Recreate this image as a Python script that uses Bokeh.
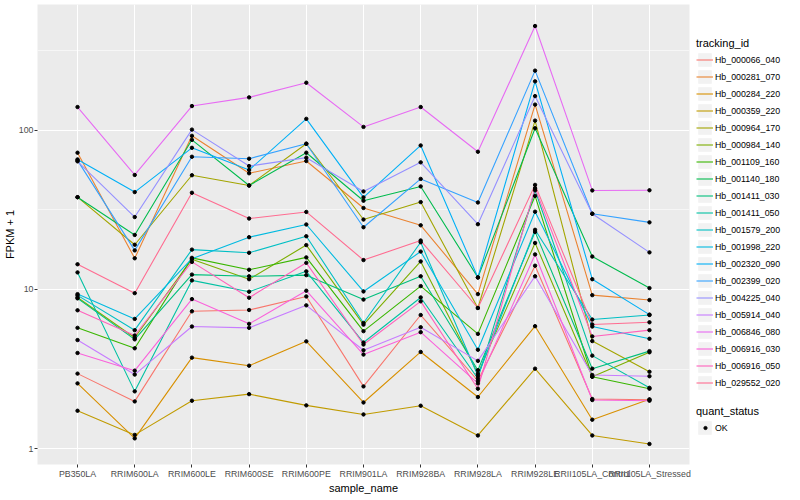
import math
from bokeh.plotting import figure
from bokeh.layouts import row
from bokeh.models import (Range1d, FactorRange, FixedTicker, Legend, LegendItem,
                          BasicTickFormatter)
from bokeh.embed import file_html
from bokeh.resources import INLINE

samples = ["PB350LA", "RRIM600LA", "RRIM600LE", "RRIM600SE", "RRIM600PE",
           "RRIM901LA", "RRIM928BA", "RRIM928LA", "RRIM928LE",
           "RRII105LA_Control", "RRII105LA_Stressed"]

tracking_ids = ["Hb_000066_040", "Hb_000281_070", "Hb_000284_220", "Hb_000359_220",
                "Hb_000964_170", "Hb_000984_140", "Hb_001109_160", "Hb_001140_180",
                "Hb_001411_030", "Hb_001411_050", "Hb_001579_200", "Hb_001998_220",
                "Hb_002320_090", "Hb_002399_020", "Hb_004225_040", "Hb_005914_040",
                "Hb_006846_080", "Hb_006916_030", "Hb_006916_050", "Hb_029552_020"]

# FPKM + 1 per sample
hb_000066_040 = [2.96, 1.98, 7.29, 7.43, 9.04, 2.46, 6.91, 2.67, 14.1, 2.05, 2.03]
hb_000281_070 = [72.3, 15.7, 92.3, 53.7, 64.1, 32.5, 25.3, 9.35, 145, 9.21, 8.58]
hb_000284_220 = [2.57, 1.16, 3.73, 3.32, 4.72, 1.95, 4.05, 2.11, 5.88, 1.52, 2.04]
hb_000359_220 = [1.73, 1.22, 2.00, 2.20, 1.87, 1.64, 1.86, 1.21, 3.18, 1.21, 1.07]
hb_000964_170 = [38.0, 19.1, 52.2, 45.0, 82.3, 27.5, 35.4, 7.65, 115, 4.74, 3.04]
hb_000984_140 = [8.91, 4.97, 15.5, 11.6, 19.0, 6.01, 15.0, 2.96, 19.6, 2.83, 4.03]
hb_001109_160 = [5.74, 4.27, 15.8, 13.3, 15.9, 5.47, 10.5, 5.26, 38.7, 2.83, 2.38]
hb_001140_180 = [38.0, 22.0, 87.1, 45.0, 72.3, 36.1, 44.4, 11.9, 103, 16.1, 10.2]
hb_001411_030 = [8.79, 4.86, 12.4, 12.1, 12.3, 8.64, 12.1, 3.11, 23.0, 3.18, 4.10]
hb_001411_050 = [12.8, 2.29, 11.4, 9.68, 13.0, 4.64, 8.91, 2.76, 42.0, 3.84, 2.41]
hb_001579_200 = [9.18, 5.55, 17.8, 17.0, 21.6, 6.16, 19.8, 2.87, 23.7, 6.47, 6.91]
hb_001998_220 = [9.35, 6.53, 15.6, 21.3, 25.6, 9.72, 17.3, 4.18, 30.8, 5.85, 4.90]
hb_002320_090 = [65.6, 40.9, 77.6, 56.3, 118, 37.9, 80.3, 11.9, 203, 11.6, 6.95]
hb_002399_020 = [64.7, 17.6, 68.2, 66.3, 82.3, 24.6, 49.5, 35.2, 237, 29.9, 26.4]
hb_004225_040 = [63.8, 28.5, 101, 59.6, 67.3, 41.3, 62.9, 25.7, 164, 29.9, 17.1]
hb_005914_040 = [4.81, 2.92, 5.85, 5.74, 7.95, 4.15, 5.79, 3.56, 12.1, 2.90, 2.85]
hb_006846_080 = [140, 52.4, 142, 161, 199, 105, 140, 73.3, 452, 41.9, 42.0]
hb_006916_030 = [3.99, 3.09, 8.70, 6.08, 9.82, 3.90, 5.39, 2.57, 16.6, 2.02, 2.00]
hb_006916_050 = [7.40, 5.14, 14.9, 8.88, 14.7, 4.51, 8.42, 2.38, 43.3, 5.07, 5.55]
hb_029552_020 = [14.4, 9.48, 40.5, 27.9, 30.7, 15.3, 20.3, 7.65, 45.4, 6.03, 6.22]

series = [hb_000066_040, hb_000281_070, hb_000284_220, hb_000359_220, hb_000964_170,
          hb_000984_140, hb_001109_160, hb_001140_180, hb_001411_030, hb_001411_050,
          hb_001579_200, hb_001998_220, hb_002320_090, hb_002399_020, hb_004225_040,
          hb_005914_040, hb_006846_080, hb_006916_030, hb_006916_050, hb_029552_020]

colors = ["#F8766D", "#EA8331", "#D89000", "#C09B00", "#A3A500", "#7CAE00", "#39B600",
          "#00BB4E", "#00BF7D", "#00C1A3", "#00BFC4", "#00BAE0", "#00B0F6", "#35A2FF",
          "#9590FF", "#C77CFF", "#E76BF3", "#FA62DB", "#FF62BC", "#FF6C91"]

quant_status = ["OK"]

FONT = "Liberation Sans"
H = 496

p = figure(x_range=FactorRange(factors=samples, range_padding=0.2,
                               range_padding_units="absolute"),
           y_range=Range1d(0.795, 617), y_axis_type="log",
           width=694, height=H, output_backend="svg", toolbar_location=None,
           min_border_left=30, min_border_right=5, min_border_top=4,
           min_border_bottom=26, title=None)

p.background_fill_color = "#EBEBEB"
p.border_fill_color = "white"
p.outline_line_color = None

yt = FixedTicker(ticks=[1, 10, 100], minor_ticks=[3.1623, 31.623, 316.23])
p.yaxis.ticker = yt
p.ygrid.ticker = yt
p.yaxis.formatter = BasicTickFormatter()
p.ygrid.grid_line_color = "white"
p.ygrid.grid_line_width = 1.1
p.ygrid.minor_grid_line_color = "white"
p.ygrid.minor_grid_line_width = 0.55
p.xgrid.grid_line_color = "white"
p.xgrid.grid_line_width = 1.1

for ax in (p.xaxis, p.yaxis):
    ax.axis_line_color = None
    ax.major_tick_line_color = "#333333"
    ax.major_tick_out = 3
    ax.major_tick_in = 0
    ax.minor_tick_line_color = None
    ax.major_label_text_font = FONT
    ax.major_label_text_font_size = "8.8px"
    ax.major_label_text_color = "#4D4D4D"
    ax.major_label_standoff = 1
    ax.axis_label_text_font = FONT
    ax.axis_label_text_font_size = "11px"
    ax.axis_label_text_font_style = "normal"
    ax.axis_label_text_color = "black"
    ax.axis_label_standoff = 0
p.yaxis.major_label_standoff = 0

p.xaxis.axis_label = "sample_name"
p.yaxis.axis_label = "FPKM + 1"

for vals, col in zip(series, colors):
    p.line(samples, vals, line_color=col, line_width=1.1)

px = [s for vals in series for s in samples]
py = [v for vals in series for v in vals]
p.scatter(px, py, size=3.4, color="black", marker="circle")

# legend panel
lg = figure(width=90, height=H, output_backend="svg", toolbar_location=None,
            x_range=Range1d(0, 1), y_range=Range1d(0, 1),
            x_axis_type=None, y_axis_type=None, title=None,
            min_border_left=0, min_border_right=0, min_border_top=0,
            min_border_bottom=0)
lg.outline_line_color = None
lg.background_fill_color = "white"
lg.border_fill_color = "white"

nan = float("nan")
# key background: a renderer whose only quad lies outside the visible range
key_bg = lg.quad(left=[5], right=[6], bottom=[5], top=[6],
                 fill_color="#F2F2F2", line_color=None)
key_lines = [lg.line([nan, nan], [nan, nan], line_color=col, line_width=1.1)
             for col in colors]
key_pt = lg.scatter([nan], [nan], size=3.4, color="black", marker="circle")

common = dict(orientation="vertical", glyph_width=17, glyph_height=17,
              label_height=17, spacing=0, padding=0, margin=0, label_standoff=2,
              title_standoff=2, border_line_color=None, background_fill_alpha=0,
              label_text_font=FONT, label_text_font_size="8.8px",
              label_text_color="black",
              title_text_font=FONT, title_text_font_size="11px",
              title_text_font_style="normal", title_text_color="black")

leg1 = Legend(items=[LegendItem(label=tid, renderers=[key_bg, r])
                     for tid, r in zip(tracking_ids, key_lines)],
              title="tracking_id", location=(2, 73), **common)
leg2 = Legend(items=[LegendItem(label=quant_status[0], renderers=[key_bg])],
              title="quant_status", location=(2, 28), **common)
dot_common = dict(common)
dot_common["glyph_width"] = 8
leg2dot = Legend(items=[LegendItem(label=" ", renderers=[key_pt])],
                 location=(6.5, 28), **dot_common)
lg.add_layout(leg1)
lg.add_layout(leg2)
lg.add_layout(leg2dot)

layout = row(p, lg)
open("out.html", "w").write(file_html(layout, INLINE))
